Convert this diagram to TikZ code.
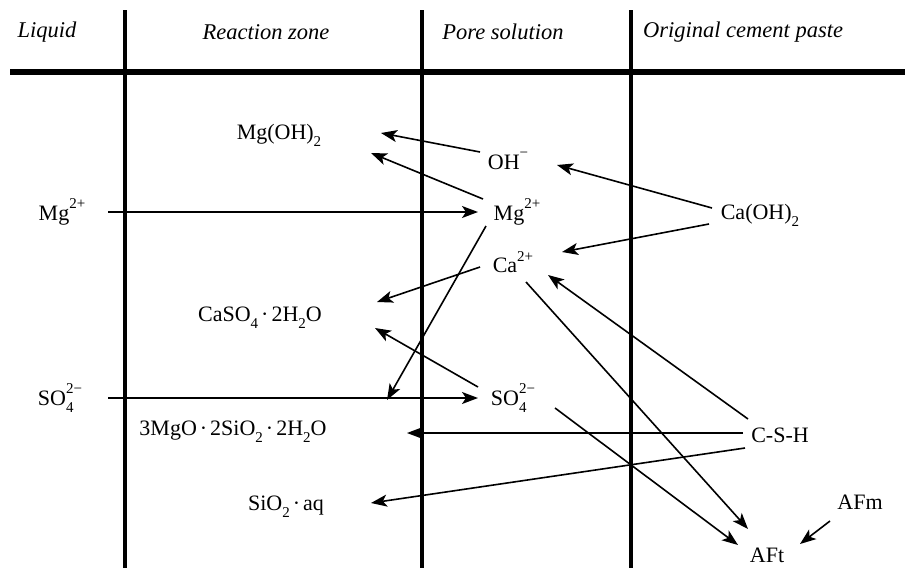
\documentclass[tikz,border=0pt]{standalone}
\usepackage{fontspec}
\setmainfont{Liberation Serif}
\usetikzlibrary{arrows.meta}
\newcommand{\upr}[1]{\raisebox{0.52em}{\fontsize{15}{15}\selectfont #1}}
\newcommand{\dn}[1]{\raisebox{-0.32em}{\fontsize{15}{15}\selectfont #1}}
\newcommand{\sulf}{SO\rlap{\dn{4}}\upr{2−}}
\newcommand{\cdt}{\kern3pt·\kern3pt}

\begin{document}
\begin{tikzpicture}[
    x=1pt, y=-1pt, >=Stealth,
    font=\fontsize{22}{26}\selectfont,
    chem/.style={inner sep=1pt},
    head/.style={inner sep=1pt, font=\fontsize{22.5}{27}\selectfont\itshape},
    col/.style={line width=3.4pt},
    bar/.style={line width=6pt},
    arr/.style={-{Stealth[length=16pt,width=12pt,inset=4pt]}, line width=1.6pt}
]
\useasboundingbox (0,0) rectangle (905,568);
\foreach \xc in {125,422,631}
  \draw[col] (\xc,10) -- (\xc,568);
\draw[bar] (10,72) -- (905,72);

\node[head] (hliq) at (47,32)  {Liquid};
\node[head] (hrz)  at (266,32) {Reaction zone};
\node[head] (hps)  at (503,32) {Pore solution};
\node[head] (hocp) at (743,32) {Original cement paste};

\node[chem] (liqMg) at (62,212)  {Mg\upr{2+}};
\node[chem] (liqSO) at (60,398)  {\sulf};
\node[chem] (mgoh)  at (279,135) {Mg(OH)\dn{2}};
\node[chem] (gyp)   at (260,318) {CaSO\dn{4}\cdt 2H\dn{2}O};
\node[chem] (msh)   at (233,432) {3MgO\cdt 2SiO\dn{2}\cdt 2H\dn{2}O};
\node[chem] (sio)   at (286,507) {SiO\dn{2}\cdt aq};
\node[chem] (ohion) at (508,161) {OH\upr{−}};
\node[chem] (mgion) at (517,212) {Mg\upr{2+}};
\node[chem] (caion) at (513,262) {Ca\upr{2+}};
\node[chem] (soion) at (513,398) {\sulf};
\node[chem] (caoh)  at (760,215) {Ca(OH)\dn{2}};
\node[chem] (csh)   at (780,435) {C-S-H};
\node[chem] (afm)   at (860,502) {AFm};
\node[chem] (aft)   at (767,555) {AFt};

\draw[arr] ([shift={(46,0)}]liqMg.center) -- ([shift={(-39,0)}]mgion.center);
\draw[arr] ([shift={(48,0)}]liqSO.center) -- ([shift={(-35,0)}]soion.center);
\draw[arr] ([shift={(-28,-9)}]ohion.center) -- ([shift={(102,-2)}]mgoh.center);
\draw[arr] ([shift={(-34,-13)}]mgion.center) -- ([shift={(92,18)}]mgoh.center);
\draw[arr] ([shift={(-48,-7)}]caoh.center) -- ([shift={(49,4)}]ohion.center);
\draw[arr] ([shift={(-51,9)}]caoh.center) -- ([shift={(49,-10)}]caion.center);
\draw[arr] ([shift={(-31,14)}]mgion.center) -- ([shift={(154,-32)}]msh.center);
\draw[arr] ([shift={(-33,5)}]caion.center) -- ([shift={(117,-16)}]gyp.center);
\draw[arr] ([shift={(-35,-11)}]soion.center) -- ([shift={(115,10)}]gyp.center);
\draw[arr] ([shift={(-37,-2)}]csh.center) -- ([shift={(174,1)}]msh.center);
\draw[arr] ([shift={(-35,13)}]csh.center) -- ([shift={(85,-4)}]sio.center);
\draw[arr] ([shift={(-32,-16)}]csh.center) -- ([shift={(35,13)}]caion.center);
\draw[arr] ([shift={(13,20)}]caion.center) -- ([shift={(-19,-26)}]aft.center);
\draw[arr] ([shift={(42,10)}]soion.center) -- ([shift={(-29,-10)}]aft.center);
\draw[arr] ([shift={(-30,19)}]afm.center) -- ([shift={(33,-11)}]aft.center);
\end{tikzpicture}
\end{document}
